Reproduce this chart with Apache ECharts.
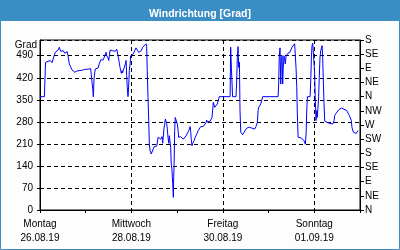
<!DOCTYPE html>
<html>
<head>
<meta charset="utf-8">
<script src="https://cdn.jsdelivr.net/npm/echarts@6/dist/echarts.min.js"></script>
<style>html,body{margin:0;padding:0;background:#fcfdfc}#c{width:400px;height:250px}</style>
</head>
<body>
<div id="c"></div>
<script>
// Hours since Monday 26.08.19 00:00
const hours = [0,2.3,2.9,4.2,5.3,6.3,7.1,8.0,8.8,9.5,10.1,10.9,11.6,12.2,13.0,13.7,14.3,14.7,15.4,16.1,16.8,17.5,18.2,19.3,20.0,20.6,21.4,22.1,23.1,23.8,24.5,25.2,25.9,26.6,27.2,27.7,28.0,28.4,29.0,29.8,30.5,31.1,31.9,32.6,33.2,34.0,34.7,35.0,35.7,36.1,36.8,37.4,38.2,38.9,39.5,40.3,41.0,41.6,42.0,42.4,42.7,43.1,43.4,43.7,44.5,44.8,45.2,45.5,45.8,46.2,46.6,46.9,47.3,47.6,48.3,49.0,49.7,50.4,51.1,51.8,52.5,53.2,53.9,54.6,55.7,56.0,56.3,56.7,57.1,57.4,57.8,58.4,59.2,59.9,60.5,61.3,62.0,62.6,63.4,64.1,64.4,64.7,65.1,65.5,65.8,66.2,66.5,66.8,67.2,67.6,67.9,68.3,68.6,68.9,69.3,69.7,70.0,70.2,70.4,70.7,71.0,71.4,71.8,72.1,72.5,72.8,73.1,73.9,74.6,75.2,76.0,76.7,77.3,78.1,78.8,79.1,79.4,79.8,80.2,80.9,81.5,82.3,83.0,83.6,84.4,85.1,85.7,86.5,87.2,87.5,87.8,88.6,89.3,89.9,90.3,90.7,91.0,91.4,91.7,92.4,93.1,93.8,94.1,99.8,100.1,100.5,101.1,102.9,103.2,103.6,104.0,104.3,104.7,105.0,105.4,105.7,106.4,107.1,107.8,108.5,109.2,109.9,110.6,111.3,112.0,112.7,113.4,114.1,114.5,114.8,115.2,115.5,115.9,116.2,116.6,116.9,125.0,125.3,125.6,126.0,126.4,126.7,127.1,127.4,127.7,128.1,128.5,128.8,129.2,129.5,130.2,130.6,131.3,131.9,132.3,133.0,133.7,134.0,134.4,134.8,135.1,135.5,135.8,136.5,137.2,137.9,138.6,139.3,139.7,140.1,140.4,141.8,142.2,142.5,142.8,143.2,143.5,143.9,144.2,144.5,144.9,145.3,145.6,146.0,146.3,146.6,147.0,147.4,147.7,148.1,148.4,148.7,149.1,149.5,150.2,150.8,151.6,152.3,152.9,153.7,154.0,154.4,154.7,155.4,156.1,156.8,157.5,158.2,158.9,159.6,160.3,161.0,161.7,162.4,163.1,163.4,163.8,164.5,165.2,166.0,166.7,167.0];
// Wind direction in degrees (values above 360 are shifted by +360)
const degrees = [360,360,469,472,475,468,470,501,500,508,517,504,501,506,498,504,503,490,464,459,445,443,438,441,438,443,447,444,445,447,444,447,445,449,444,384,360,421,448,449,451,464,477,483,477,490,501,490,483,475,508,505,506,508,504,511,506,469,453,443,434,443,436,443,448,464,475,427,390,360,400,443,464,490,488,496,506,515,508,501,498,506,517,522,528,520,443,358,278,209,188,178,183,201,207,203,231,231,225,233,212,231,260,273,289,294,275,260,231,212,236,215,199,146,125,82,40,103,146,252,294,289,294,273,252,231,236,233,231,225,228,236,241,252,265,250,225,204,212,220,231,241,252,257,265,260,265,271,278,286,279,284,282,278,294,321,342,337,326,331,337,353,360,360,517,450,360,360,400,485,519,453,470,316,247,241,239,247,250,260,265,263,265,260,258,257,265,278,316,326,330,324,337,342,342,360,360,400,485,515,400,475,490,400,450,490,496,464,490,496,498,504,502,506,517,519,528,530,453,390,305,231,229,232,229,225,220,209,241,326,360,360,421,485,522,530,533,533,432,358,284,316,294,290,360,421,485,506,500,522,485,421,337,282,282,278,278,275,271,273,268,284,300,307,313,318,321,324,321,320,318,316,314,300,296,285,262,247,248,243,247,252];
const dayNames = ['Montag','Dienstag','Mittwoch','Donnerstag','Freitag','Samstag','Sonntag','Montag'];
const dates = ['26.08.19','27.08.19','28.08.19','29.08.19','30.08.19','31.08.19','01.09.19','02.09.19'];
const leftTicks = [0,70,140,210,280,350,420,490];
const dirLabels = ['N','NE','E','SE','S','SW','W','NW','N','NE','E','SE','S'];

const chart = echarts.init(document.getElementById('c'), null, {renderer:'canvas'});
const font = 'Liberation Sans';
const lbl = {color:'#000', fontFamily:font, fontSize:10};
const dash = {color:'#000', width:1, type:[4,3]};
chart.setOption({
  backgroundColor:'#fcfdfc',
  animation:false,
  title:{text:'Windrichtung [Grad]', left:'center', top:4,
    textStyle:{color:'#fff', fontFamily:font, fontWeight:'bold', fontSize:10.5}},
  graphic:[
    {type:'rect', shape:{x:0,y:0,width:400,height:21}, style:{fill:'#3b8ec4'}, z:0},
    {type:'rect', shape:{x:0.5,y:0.5,width:399,height:249}, style:{fill:null, stroke:'#3b8ec4', lineWidth:1}, z:0}
  ],
  grid:{left:40, right:40, top:40, bottom:40, show:true, borderColor:'#000', borderWidth:1, backgroundColor:'#ffffff'},
  xAxis:{type:'value', min:0, max:168, interval:48,
    axisLine:{lineStyle:{color:'#000'}},
    axisTick:{show:true, length:3, lineStyle:{color:'#000'}},
    minorTick:{show:true, splitNumber:2, length:3, lineStyle:{color:'#000'}},
    splitLine:{show:true, lineStyle:dash},
    axisLabel:{...lbl, margin:7, lineHeight:14, showMaxLabel:false,
      formatter:v=>{const d=Math.round(v/24); return v>=168?'':dayNames[d]+'\n'+dates[d];}}
  },
  yAxis:[
    {type:'value', min:0, max:540, interval:70, position:'left',
     name:'Grad', nameLocation:'end', nameGap:-5,
     nameTextStyle:{...lbl, align:'right', verticalAlign:'middle', padding:[0,3,0,0]},
     axisLine:{show:true, lineStyle:{color:'#000'}},
     axisTick:{show:true, length:3, lineStyle:{color:'#000'}},
     splitLine:{show:true, lineStyle:dash},
     axisLabel:{...lbl, margin:7, showMaxLabel:false,
       formatter:v=>leftTicks.indexOf(v)>=0?String(v):''}
    },
    {type:'value', min:0, max:540, interval:45, position:'right',
     axisLine:{show:true, lineStyle:{color:'#000'}},
     axisTick:{show:true, length:4, lineStyle:{color:'#000'}},
     splitLine:{show:false},
     axisLabel:{...lbl, margin:5, formatter:v=>dirLabels[Math.round(v/45)]}
    }
  ],
  series:[{type:'line', yAxisIndex:0, showSymbol:false, symbol:'none',
    lineStyle:{color:'#0000ff', width:1},
    data:hours.map((h,i)=>[h,degrees[i]])}]
});
</script>
</body>
</html>
